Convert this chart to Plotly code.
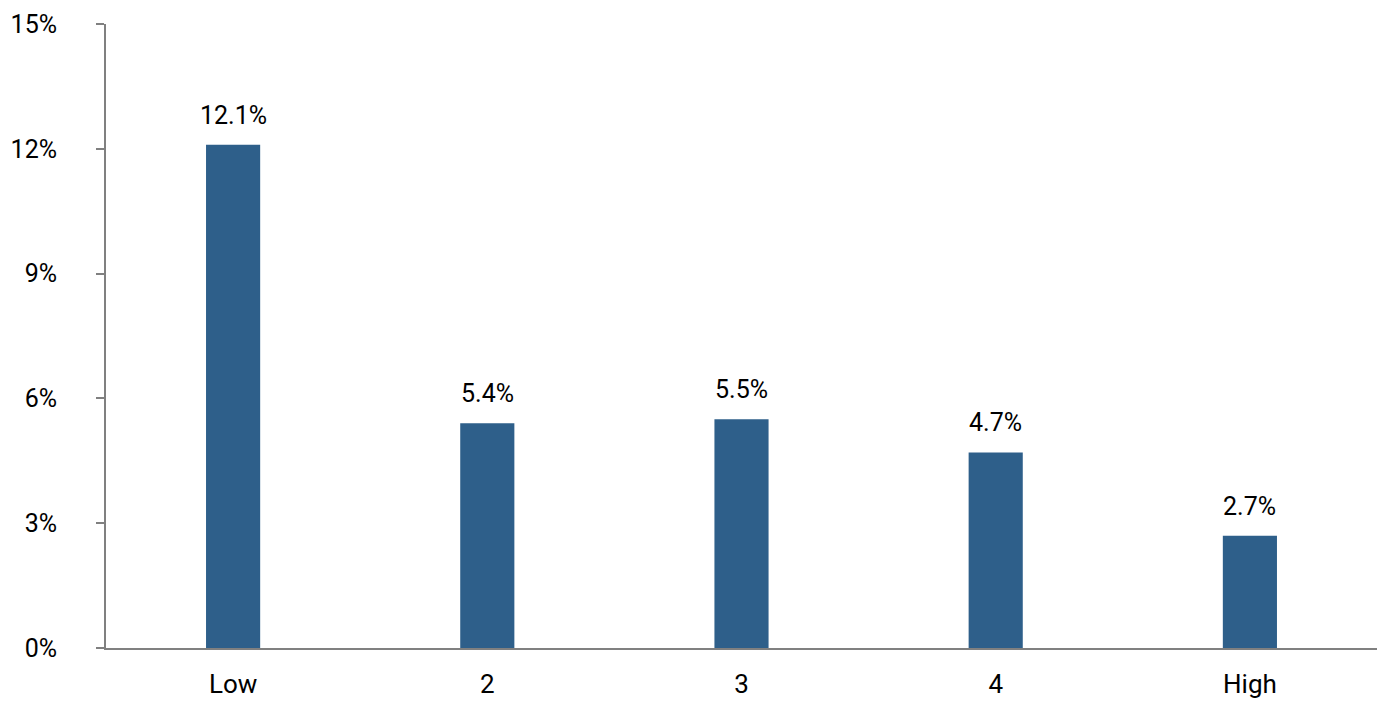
import plotly.graph_objects as go

categories = ["Low", "2", "3", "4", "High"]
values = [12.1, 5.4, 5.5, 4.7, 2.7]
value_labels = ["12.1%", "5.4%", "5.5%", "4.7%", "2.7%"]
y_ticks = [0, 3, 6, 9, 12, 15]
y_tick_labels = ["0%", "3%", "6%", "9%", "12%", "15%"]

font_family = "Roboto, sans-serif"
bar_color = "#2E5F8A"
axis_color = "#808080"

fig = go.Figure()

fig.add_trace(go.Bar(
    x=categories,
    y=values,
    marker=dict(color=bar_color, line=dict(width=0)),
    hoverinfo="skip",
))

# value labels a little above each bar (x by index: "2","3","4" would be read as positions)
for i, (val, lab) in enumerate(zip(values, value_labels)):
    fig.add_annotation(
        x=i, y=val, text=lab, showarrow=False,
        yanchor="bottom", yshift=13,
        font=dict(family=font_family, size=25, color="#000000"),
    )

# the page body adds an 8px margin, so figure is 8px smaller than the window
fig.update_layout(
    width=1382,
    height=705,
    margin=dict(l=98, r=13, t=16, b=65),
    paper_bgcolor="white",
    plot_bgcolor="white",
    showlegend=False,
    bargap=0.787,
    font=dict(family=font_family, size=25, color="#000000"),
)

fig.update_xaxes(
    automargin=False,
    showline=True, linecolor=axis_color, linewidth=2,
    ticks="", showgrid=False, zeroline=False,
    ticklabelstandoff=12,
    tickfont=dict(size=26),
)

fig.update_yaxes(
    automargin=False,
    range=[0, 15],
    tickvals=y_ticks,
    ticktext=y_tick_labels,
    showline=True, linecolor=axis_color, linewidth=2,
    ticks="outside", ticklen=8, tickcolor=axis_color, tickwidth=2,
    ticklabelstandoff=34,
    showgrid=False, zeroline=False,
)

fig.write_html("out.html")
